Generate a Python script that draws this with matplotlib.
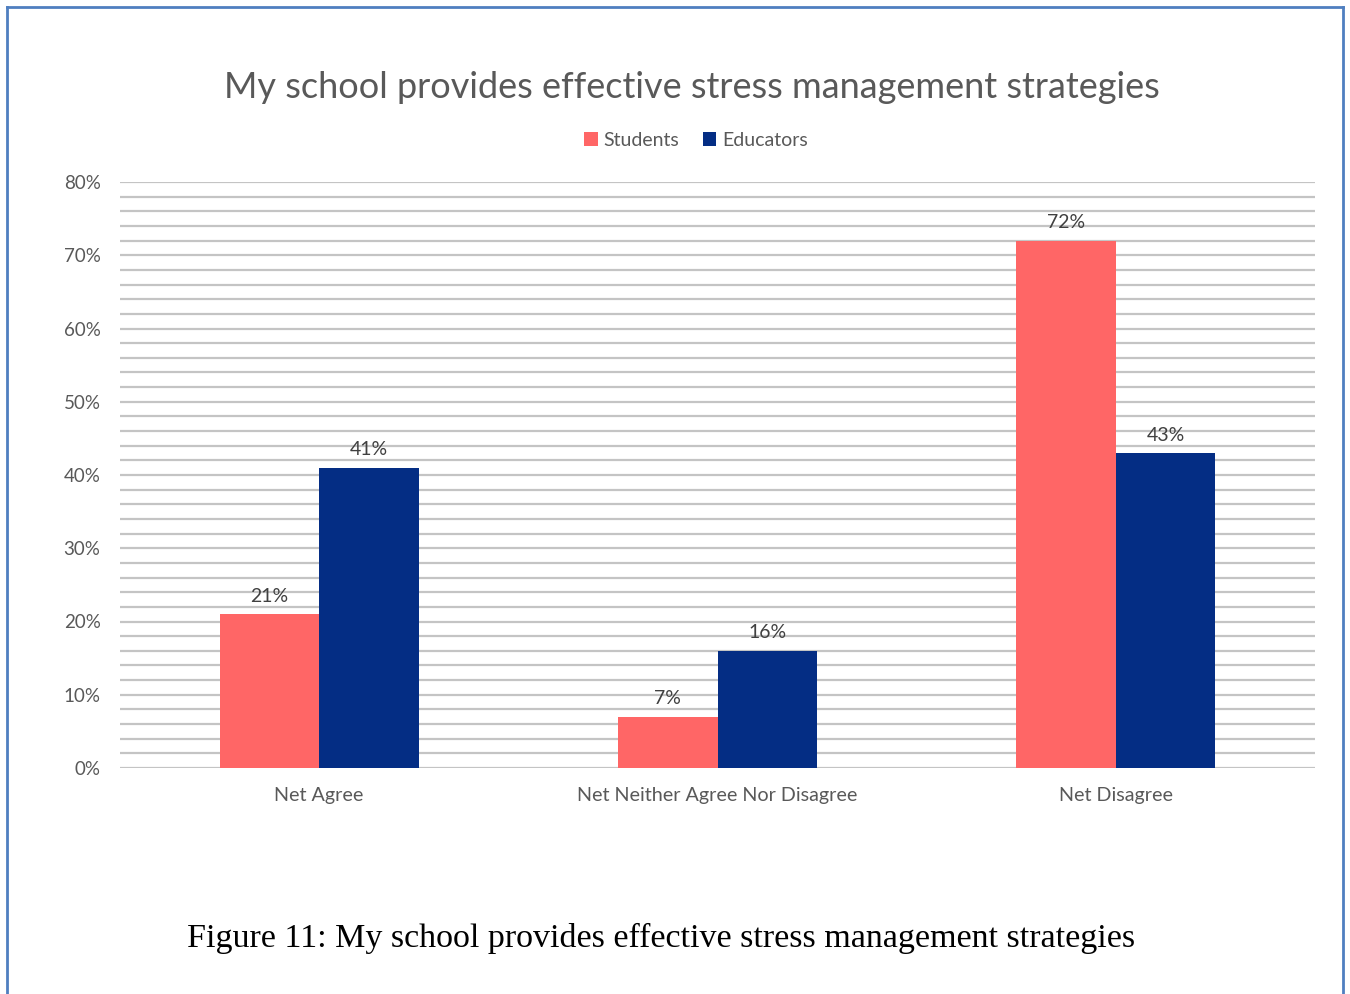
import matplotlib
matplotlib.use("Agg")
import matplotlib.pyplot as plt
from matplotlib.lines import Line2D
from matplotlib.ticker import MultipleLocator, FuncFormatter
import numpy as np

categories = ["Net Agree", "Net Neither Agree Nor Disagree", "Net Disagree"]
students = [21, 7, 72]
educators = [41, 16, 43]
series_names = ["Students", "Educators"]
colors = ["#ff6666", "#042d84"]

plt.rcParams['font.family'] = ['Lato', 'DejaVu Sans']
text_gray = "#595959"

fig = plt.figure(figsize=(13.5, 9.94), dpi=100)
ax = fig.add_axes([120/1350, 1-768/994, 1195/1350, (768-182)/994])

x = np.arange(len(categories))
w = 0.25
b1 = ax.bar(x - w/2, students, w, color=colors[0], label=series_names[0], zorder=3)
b2 = ax.bar(x + w/2, educators, w, color=colors[1], label=series_names[1], zorder=3)

for bars, vals in ((b1, students), (b2, educators)):
    for r, v in zip(bars, vals):
        ax.text(r.get_x() + r.get_width()/2, v + 1.3, f"{v}%", ha="center", va="bottom",
                fontsize=14, color="#404040")

ax.set_xlim(-0.5, 2.5)
ax.set_ylim(0, 80)
ax.yaxis.set_major_locator(MultipleLocator(10))
ax.yaxis.set_minor_locator(MultipleLocator(2))
ax.yaxis.set_major_formatter(FuncFormatter(lambda v, p: f"{v:.0f}%"))
ax.grid(axis="y", which="both", color="#c4c4c4", linewidth=1.6, zorder=0)
ax.set_xticks(x)
ax.set_xticklabels(categories)
ax.tick_params(axis="x", length=0, labelsize=14.2, colors=text_gray, pad=14)
ax.tick_params(axis="y", which="both", length=0, labelsize=13.5, colors=text_gray, pad=14)
for s in ax.spines.values():
    s.set_visible(False)

fig.text(692/1350, 1-87/994, "My school provides effective stress management strategies",
         ha="center", va="center", fontsize=26, color=text_gray)
ax.legend(loc="center", bbox_to_anchor=(696/1350, 1-140/994), bbox_transform=fig.transFigure,
          ncol=2, frameon=False, fontsize=14, labelcolor=text_gray,
          handlelength=0.7, handleheight=0.7, handletextpad=0.3, columnspacing=1.2)

fig.text(661/1350, 1-938/994, "Figure 11: My school provides effective stress management strategies",
         ha="center", va="center", fontsize=24.5, color="black",
         family=["Liberation Serif", "DejaVu Serif"])

# frame around the chart, open at the bottom
edge = "#4f7fc0"
fx = lambda px: px/1350
fy = lambda py: 1 - py/994
fig.add_artist(Line2D([fx(7), fx(7)], [fy(7), 0], color=edge, lw=2))
fig.add_artist(Line2D([fx(1343), fx(1343)], [fy(7), 0], color=edge, lw=2))
fig.add_artist(Line2D([fx(7), fx(1343)], [fy(7), fy(7)], color=edge, lw=2))

fig.savefig("out.png", dpi=100)
